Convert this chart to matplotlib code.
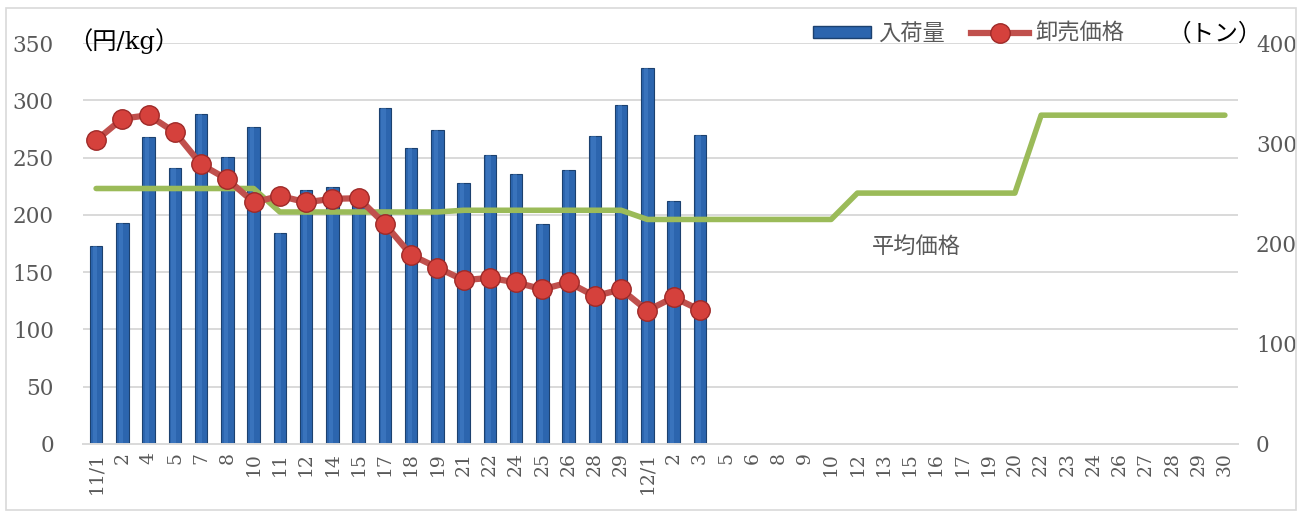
import matplotlib
matplotlib.use("Agg")
import matplotlib.pyplot as plt
from matplotlib.lines import Line2D
from matplotlib.patches import Patch, Rectangle
import numpy as np

plt.rcParams['font.family'] = ['DejaVu Serif', 'Noto Sans CJK JP']

dates = ['11/1', '2', '4', '5', '7', '8', '10', '11', '12', '14', '15', '17', '18', '19',
         '21', '22', '24', '25', '26', '28', '29', '12/1', '2', '3', '5', '6', '8', '9',
         '10', '12', '13', '15', '16', '17', '19', '20', '22', '23', '24', '26', '27',
         '28', '29', '30']
volume = [198, 220, 306, 275, 329, 286, 316, 210, 253, 256, 246, 335, 295, 313,
          260, 288, 269, 219, 273, 307, 338, 375, 242, 308]
price = [265, 284, 287, 272, 244, 231, 211, 216.5, 211, 214, 214.5, 192, 165, 154,
         143, 145, 141, 135, 141, 129, 135, 116.5, 128, 117]
avg_price = [223] * 7 + [202.5] * 7 + [204] * 7 + [196] * 8 + [219] * 7 + [287] * 8

fig = plt.figure(figsize=(13.01, 5.13), dpi=100)
ax = fig.add_axes([83/1301, 1-444/513, (1238-83)/1301, (444-43)/513])
ax2 = ax.twinx()

x = np.arange(len(dates))
xv = np.arange(len(volume))
xp = np.arange(len(price))

# bars on secondary axis (tonnes)
ax2.bar(xv, volume, width=0.48, color='#2C65AE', edgecolor='#1C416F', linewidth=0.8, zorder=2)
ax2.bar(xv - 0.05, volume, width=0.16, color='#4A86CF', edgecolor='none', alpha=0.45, zorder=3)
ax2.set_ylim(0, 400)
ax2.set_yticks([0, 100, 200, 300, 400])

# lines on primary axis, drawn above bars
ax.set_zorder(ax2.get_zorder() + 1)
ax.patch.set_visible(False)
ax.plot(x, avg_price, color='#9BBB59', linewidth=4, solid_capstyle='round', zorder=4)
ax.plot(xp, price, color='#C0504D', linewidth=4.5, marker='o', markersize=14,
        markerfacecolor='#D5413C', markeredgecolor='#9E2A28', markeredgewidth=1, zorder=5)

ax.set_ylim(0, 350)
ax.set_yticks(np.arange(0, 351, 50))
ax.set_xlim(-0.5, len(dates) - 0.5)
ax.set_xticks(x)
ax.set_xticklabels(dates, rotation=90)

for a in (ax, ax2):
    for s in ('left', 'right', 'top'):
        a.spines[s].set_visible(False)
ax.spines['bottom'].set_color('#D9D9D9')
ax.spines['bottom'].set_linewidth(1.4)
ax2.spines['bottom'].set_visible(False)

ax.tick_params(axis='y', length=0, pad=21, labelsize=15.5, labelcolor='#595959')
ax.tick_params(axis='x', length=0, pad=6, labelsize=13.5, labelcolor='#595959')
ax2.tick_params(axis='y', length=0, pad=13, labelsize=15.5, labelcolor='#595959')

# horizontal grid (left-axis ticks) drawn behind bars
for yv in np.arange(50, 351, 50):
    ax2.axhline(yv * 400 / 350, color='#D9D9D9', linewidth=1.4, zorder=0)

jp = ['Noto Sans CJK JP', 'DejaVu Sans']
fig.text(68/1301, 1-41/513, '（円/kg）', fontsize=17.5, color='black', va='center', ha='left',
         family=['DejaVu Serif', 'Noto Sans CJK JP'])
fig.text(1262/1301, 1-34/513, '（トン）', fontsize=17, color='black', va='center', ha='right',
         family=jp)
fig.text(916/1301, 1-246/513, '平均価格', fontsize=16, color='#595959',
         va='center', ha='center', family=jp)

handles = [Patch(facecolor='#2C65AE', edgecolor='#1C416F'),
           Line2D([0], [0], color='#C0504D', linewidth=4.5, marker='o', markersize=14,
                  markerfacecolor='#D5413C', markeredgecolor='#9E2A28')]
leg = fig.legend(handles, ['入荷量', '卸売価格'], loc='center', bbox_to_anchor=(969/1301, 1-33/513),
                 ncol=2, frameon=False, prop={'family': jp, 'size': 16}, handlelength=2.6,
                 handleheight=0.45, columnspacing=1.2, handletextpad=0.3)
for t in leg.get_texts():
    t.set_color('#595959')

fig.patches.append(Rectangle((6/1301, 3/513), 1290/1301, 502/513, transform=fig.transFigure,
                             fill=False, edgecolor='#D9D9D9', linewidth=1.2))

fig.savefig('out.png', dpi=100)
